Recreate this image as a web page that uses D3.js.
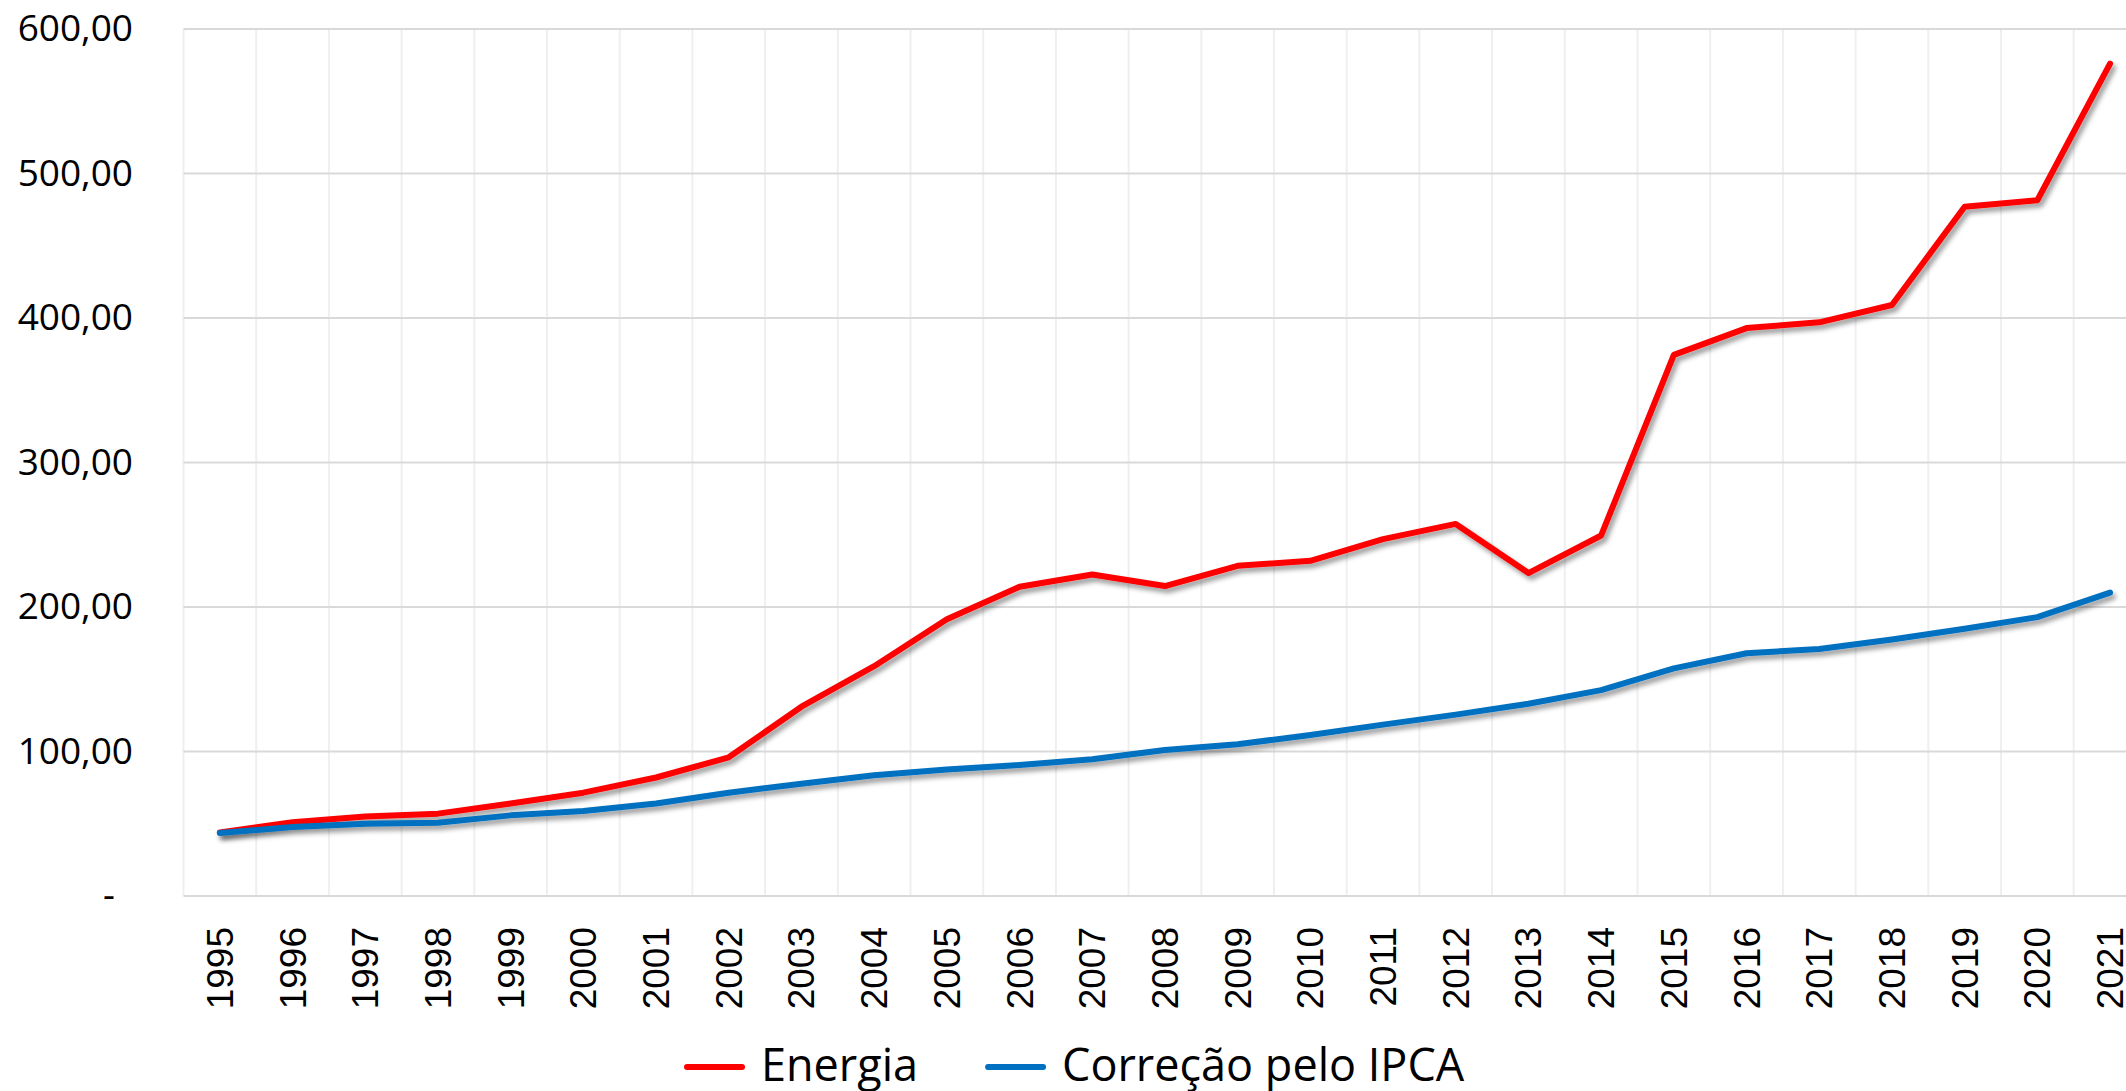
<!DOCTYPE html>
<html>
<head>
<meta charset="utf-8">
<script src="https://cdn.jsdelivr.net/npm/d3@7"></script>
<style>
  body { margin: 0; background: #fff; }
  svg { display: block; }
</style>
</head>
<body>
<div id="chart"></div>
<script>
// Years on the x axis
const years = [1995, 1996, 1997, 1998, 1999, 2000, 2001, 2002, 2003, 2004, 2005,
  2006, 2007, 2008, 2009, 2010, 2011, 2012, 2013, 2014, 2015, 2016, 2017,
  2018, 2019, 2020, 2021];

// Series values
const energia = [44, 51, 55, 57, 64, 71.5, 82, 96, 131, 159, 191.5, 214, 222.5,
  214.5, 228.5, 232, 247, 257.5, 223.5, 249.5, 374.5, 393, 397, 409, 477,
  481.5, 576];
const ipca = [43.6, 47.8, 50, 50.7, 55.8, 58.8, 64, 71.5, 77.7, 83.5, 87.5,
  90.7, 94.7, 101, 105, 111.4, 118.6, 125.5, 133, 142.5, 157.5, 168, 171,
  177.5, 185, 193, 210];

const seriesNames = ["Energia", "Correção pelo IPCA"];
const seriesColors = ["#ff0000", "#0070c0"];
const yTicks = [0, 100, 200, 300, 400, 500, 600];

const W = 2126, H = 1091;
const plotLeft = 183.5, plotTop = 29, plotBottom = 896, step = 72.7;

const svg = d3.select("#chart").append("svg")
  .attr("width", W).attr("height", H);

// soft drop shadow under the lines, like the spreadsheet style
const defs = svg.append("defs");
const f = defs.append("filter").attr("id", "shadow")
  .attr("x", "-5%").attr("y", "-5%").attr("width", "110%").attr("height", "120%");
f.append("feDropShadow").attr("dx", 3).attr("dy", 4)
  .attr("stdDeviation", 2.5).attr("flood-color", "#000").attr("flood-opacity", 0.4);

const x = d3.scaleBand().domain(years)
  .range([plotLeft, plotLeft + step * years.length]).padding(0);
const y = d3.scaleLinear().domain([0, 600]).range([plotBottom, plotTop]);
const cx = d => x(d) + x.bandwidth() / 2;

// vertical grid at category boundaries
svg.append("g").selectAll("line")
  .data(years.concat([null]))
  .join("line")
    .attr("x1", (d, i) => plotLeft + i * x.bandwidth())
    .attr("x2", (d, i) => plotLeft + i * x.bandwidth())
    .attr("y1", plotTop).attr("y2", plotBottom)
    .attr("stroke", "#efefef").attr("stroke-width", 2);

// horizontal grid
svg.append("g").selectAll("line")
  .data(yTicks)
  .join("line")
    .attr("x1", plotLeft).attr("x2", x.range()[1])
    .attr("y1", d => y(d)).attr("y2", d => y(d))
    .attr("stroke", "#d9d9d9").attr("stroke-width", 2);

// y axis labels
const yAxis = svg.append("g")
  .attr("transform", `translate(133,0)`)
  .call(d3.axisLeft(y).tickValues(yTicks).tickSize(0).tickPadding(0)
    .tickFormat(d => d === 0 ? "-" : d3.format(".2f")(d).replace(".", ",")));
yAxis.select(".domain").remove();
yAxis.selectAll("text")
  .attr("font-family", "'Open Sans', sans-serif")
  .attr("font-size", 37).attr("fill", "#000")
  .attr("dx", d => d === 0 ? -18 : 0);

// x axis labels, rotated
const xAxis = svg.append("g")
  .attr("transform", `translate(0,${plotBottom})`)
  .call(d3.axisBottom(x).tickSize(0).tickPadding(0));
xAxis.select(".domain").remove();
xAxis.selectAll("text")
  .attr("font-family", "'Liberation Sans', Arial, sans-serif")
  .attr("font-size", 37).attr("fill", "#000")
  .attr("text-anchor", "end")
  .attr("transform", "rotate(-90)")
  .attr("x", -31).attr("y", 0).attr("dy", "0.35em");

// lines
const line = d3.line().x((d, i) => cx(years[i])).y(d => y(d));
[energia, ipca].forEach((vals, k) => {
  svg.append("path")
    .datum(vals)
    .attr("d", line)
    .attr("fill", "none")
    .attr("stroke", seriesColors[k])
    .attr("stroke-width", 6)
    .attr("stroke-linejoin", "round")
    .attr("stroke-linecap", "round")
    .attr("filter", "url(#shadow)");
});

// legend
const legend = svg.append("g").attr("transform", "translate(687,1067)");
let lx = 0;
seriesNames.forEach((name, k) => {
  const g = legend.append("g").attr("transform", `translate(${lx},0)`);
  g.append("line").attr("x1", 0).attr("x2", 55)
    .attr("stroke", seriesColors[k]).attr("stroke-width", 6)
    .attr("stroke-linecap", "round");
  const t = g.append("text").attr("x", 74).attr("y", 14)
    .attr("font-family", "'Open Sans', sans-serif")
    .attr("font-size", 45).attr("fill", "#000")
    .text(name);
  lx += 74 + t.node().getComputedTextLength() + 70;
});
</script>
</body>
</html>
